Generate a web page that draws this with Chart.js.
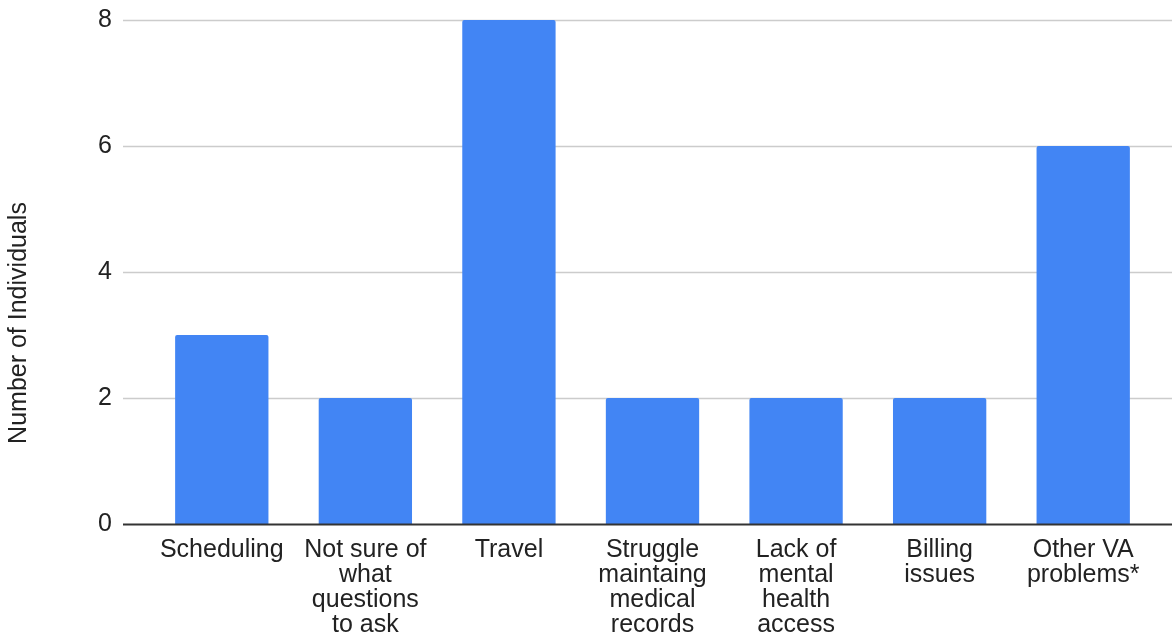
<!DOCTYPE html>
<html>
<head>
<meta charset="utf-8">
<script src="https://cdn.jsdelivr.net/npm/chart.js@4"></script>
<style>
  html, body { margin: 0; padding: 0; background: #fff; }
  #wrap { width: 1172px; height: 638px; position: relative; }
</style>
</head>
<body>
<div id="wrap"><canvas id="barChart"></canvas></div>
<script>
var categories = [
  "Scheduling",
  ["Not sure of", "what", "questions", "to ask"],
  "Travel",
  ["Struggle", "maintaing", "medical", "records"],
  ["Lack of", "mental", "health", "access"],
  ["Billing", "issues"],
  ["Other VA", "problems*"]
];
var counts = [3, 2, 8, 2, 2, 2, 6];
var yTicks = [0, 2, 4, 6, 8];
var yTitle = "Number of Individuals";

var FONT = "'Liberation Sans', Arial, sans-serif";

// gridlines run wider than the bars, like the google sheets chart
var gridPlugin = {
  id: 'wideGrid',
  beforeDatasetsDraw: function(chart) {
    var ctx = chart.ctx, y = chart.scales.y;
    ctx.save();
    ctx.strokeStyle = '#cccccc';
    ctx.lineWidth = 1.5;
    yTicks.forEach(function(v) {
      if (v === 0) return;
      var py = Math.round(y.getPixelForValue(v)) + 0.5;
      ctx.beginPath();
      ctx.moveTo(123, py);
      ctx.lineTo(chart.width, py);
      ctx.stroke();
    });
    ctx.restore();
  },
  afterDatasetsDraw: function(chart) {
    var ctx = chart.ctx, y = chart.scales.y;
    var py = Math.round(y.getPixelForValue(0)) + 0.5;
    ctx.save();
    ctx.strokeStyle = '#333333';
    ctx.lineWidth = 2;
    ctx.beginPath();
    ctx.moveTo(123, py);
    ctx.lineTo(chart.width, py);
    ctx.stroke();
    // axis title, roughly centred on the whole canvas height
    ctx.translate(19, chart.height / 2 + 4);
    ctx.rotate(-Math.PI / 2);
    ctx.fillStyle = '#222222';
    ctx.font = '25px ' + FONT;
    ctx.textAlign = 'center';
    ctx.textBaseline = 'middle';
    ctx.fillText(yTitle, 0, 0);
    ctx.restore();
  }
};

new Chart(document.getElementById('barChart'), {
  type: 'bar',
  data: {
    labels: categories,
    datasets: [{
      data: counts,
      backgroundColor: '#4285f4',
      borderRadius: 2,
      borderSkipped: 'bottom',
      barPercentage: 0.65,
      categoryPercentage: 1.0
    }]
  },
  options: {
    responsive: true,
    maintainAspectRatio: false,
    animation: false,
    layout: { padding: { top: 20, right: 17, left: 0, bottom: 0 } },
    plugins: {
      legend: { display: false },
      tooltip: { enabled: false }
    },
    scales: {
      x: {
        grid: { display: false, drawTicks: false },
        border: { display: false },
        afterFit: function(scale) {
          scale.height = 114;
          scale.paddingLeft = 0;
          scale.paddingRight = 0;
        },
        ticks: {
          color: '#222222',
          font: { family: FONT, size: 25, lineHeight: 1.0 },
          maxRotation: 0, minRotation: 0, autoSkip: false,
          padding: 14
        }
      },
      y: {
        min: 0, max: 8,
        grid: { display: false, drawTicks: false },
        border: { display: false },
        afterFit: function(scale) {
          scale.width = 150;
          scale.paddingTop = 0;
          scale.paddingBottom = 0;
        },
        afterBuildTicks: function(scale) {
          scale.ticks = yTicks.map(function(v) { return { value: v }; });
        },
        ticks: {
          color: '#222222',
          font: { family: FONT, size: 25, lineHeight: 1.0 },
          padding: 38
        }
      }
    }
  },
  plugins: [gridPlugin]
});
</script>
</body>
</html>
